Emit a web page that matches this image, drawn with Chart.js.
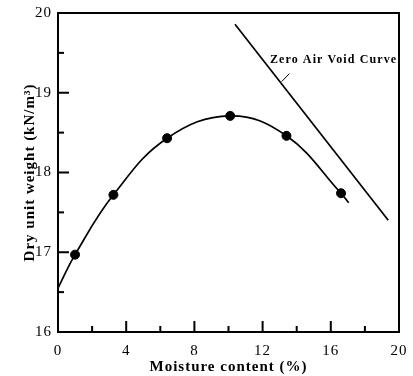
<!DOCTYPE html>
<html><head><meta charset="utf-8">
<script src="https://cdn.jsdelivr.net/npm/chart.js@4/dist/chart.umd.min.js"></script>
<style>html,body{margin:0;padding:0;background:#fff}#wrap{width:413px;height:376px}</style>
</head><body><div id="wrap"><canvas id="c" width="413" height="376"></canvas></div>
<script>
const moisture = [1.0, 3.25, 6.4, 10.1, 13.4, 16.6];
const dryUnitWeight = [16.97, 17.72, 18.43, 18.71, 18.46, 17.74];
const curveX = [0, 1.0, 3.25, 6.4, 10.1, 13.4, 16.6, 17.05];
const curveY = [16.55, 16.97, 17.72, 18.43, 18.71, 18.46, 17.74, 17.62];
const zavX = [10.38, 19.37];
const zavY = [19.86, 17.40];
const xMajor = [0, 4, 8, 12, 16, 20];
const xMinor = [2, 6, 10, 14, 18];
const yMajor = [16, 17, 18, 19, 20];
const yMinor = [16.5, 17.5, 18.5, 19.5];
const zavLabel = 'Zero Air Void Curve';
const zavLabelPos = {x: 12.43, y: 19.41};
const zavLeader = [{x: 13.12, y: 19.14}, {x: 13.57, y: 19.24}];

const pts = (xs, ys) => xs.map((x, i) => ({x, y: ys[i]}));

const spacing = {
  id: 'spacing',
  beforeDraw(chart) { chart.ctx.letterSpacing = '1px'; }
};

const inwardTicks = {
  id: 'inwardTicks',
  afterDraw(chart) {
    const {ctx, chartArea: a, scales: {x, y}} = chart;
    ctx.save();
    ctx.strokeStyle = '#000';
    ctx.lineWidth = 2;
    ctx.strokeRect(a.left, a.top, a.right - a.left, a.bottom - a.top);
    const tick = (x1, y1, x2, y2) => { ctx.beginPath(); ctx.moveTo(x1, y1); ctx.lineTo(x2, y2); ctx.stroke(); };
    xMajor.forEach(v => { const p = x.getPixelForValue(v); tick(p, a.bottom, p, a.bottom - 11); });
    xMinor.forEach(v => { const p = x.getPixelForValue(v); tick(p, a.bottom, p, a.bottom - 6); });
    yMajor.forEach(v => { const p = y.getPixelForValue(v); tick(a.left, p, a.left + 11, p); });
    yMinor.forEach(v => { const p = y.getPixelForValue(v); tick(a.left, p, a.left + 6, p); });
    ctx.lineWidth = 1;
    tick(x.getPixelForValue(zavLeader[0].x), y.getPixelForValue(zavLeader[0].y),
         x.getPixelForValue(zavLeader[1].x), y.getPixelForValue(zavLeader[1].y));
    ctx.fillStyle = '#000';
    ctx.font = 'bold 12px "Liberation Serif"';
    ctx.letterSpacing = '1.1px';
    ctx.textBaseline = 'middle';
    ctx.textAlign = 'left';
    ctx.fillText(zavLabel, x.getPixelForValue(zavLabelPos.x), y.getPixelForValue(zavLabelPos.y));
    ctx.restore();
  }
};

new Chart(document.getElementById('c'), {
  type: 'scatter',
  data: {
    datasets: [
      {data: pts(curveX, curveY), showLine: true, tension: 0.4, borderColor: '#000', borderWidth: 1.7, pointRadius: 0, fill: false},
      {data: pts(moisture, dryUnitWeight), showLine: false, pointRadius: 4.5, pointBackgroundColor: '#000', pointBorderColor: '#000'},
      {data: pts(zavX, zavY), showLine: true, borderColor: '#000', borderWidth: 1.7, pointRadius: 0}
    ]
  },
  options: {
    responsive: false, animation: false, devicePixelRatio: 1,
    layout: {padding: {top: 13, right: 14, left: 0, bottom: 0}},
    plugins: {legend: {display: false}, tooltip: {enabled: false}},
    scales: {
      x: {
        type: 'linear', min: 0, max: 20,
        afterFit(s) { s.height = 44; s.paddingLeft = 0; s.paddingRight = 0; },
        afterBuildTicks(s) { s.ticks = xMajor.map(v => ({value: v})); },
        grid: {display: false, drawTicks: false},
        border: {display: false},
        ticks: {color: '#000', font: {family: 'Liberation Serif', size: 15}, padding: 10, maxRotation: 0},
        title: {display: true, text: 'Moisture content (%)', color: '#000', font: {family: 'Liberation Serif', size: 15, weight: 'bold'}, padding: {top: 0, bottom: 0}}
      },
      y: {
        type: 'linear', min: 16, max: 20,
        afterFit(s) { s.width = 58; s.paddingTop = 0; s.paddingBottom = 0; },
        afterBuildTicks(s) { s.ticks = yMajor.map(v => ({value: v})); },
        grid: {display: false, drawTicks: false},
        border: {display: false},
        ticks: {color: '#000', font: {family: 'Liberation Serif', size: 15}, padding: 6},
        title: {display: true, text: 'Dry unit weight (kN/m³)', color: '#000', font: {family: 'Liberation Serif', size: 15, weight: 'bold'}, padding: {top: 21, bottom: 0}}
      }
    }
  },
  plugins: [spacing, inwardTicks]
});
</script></body></html>
